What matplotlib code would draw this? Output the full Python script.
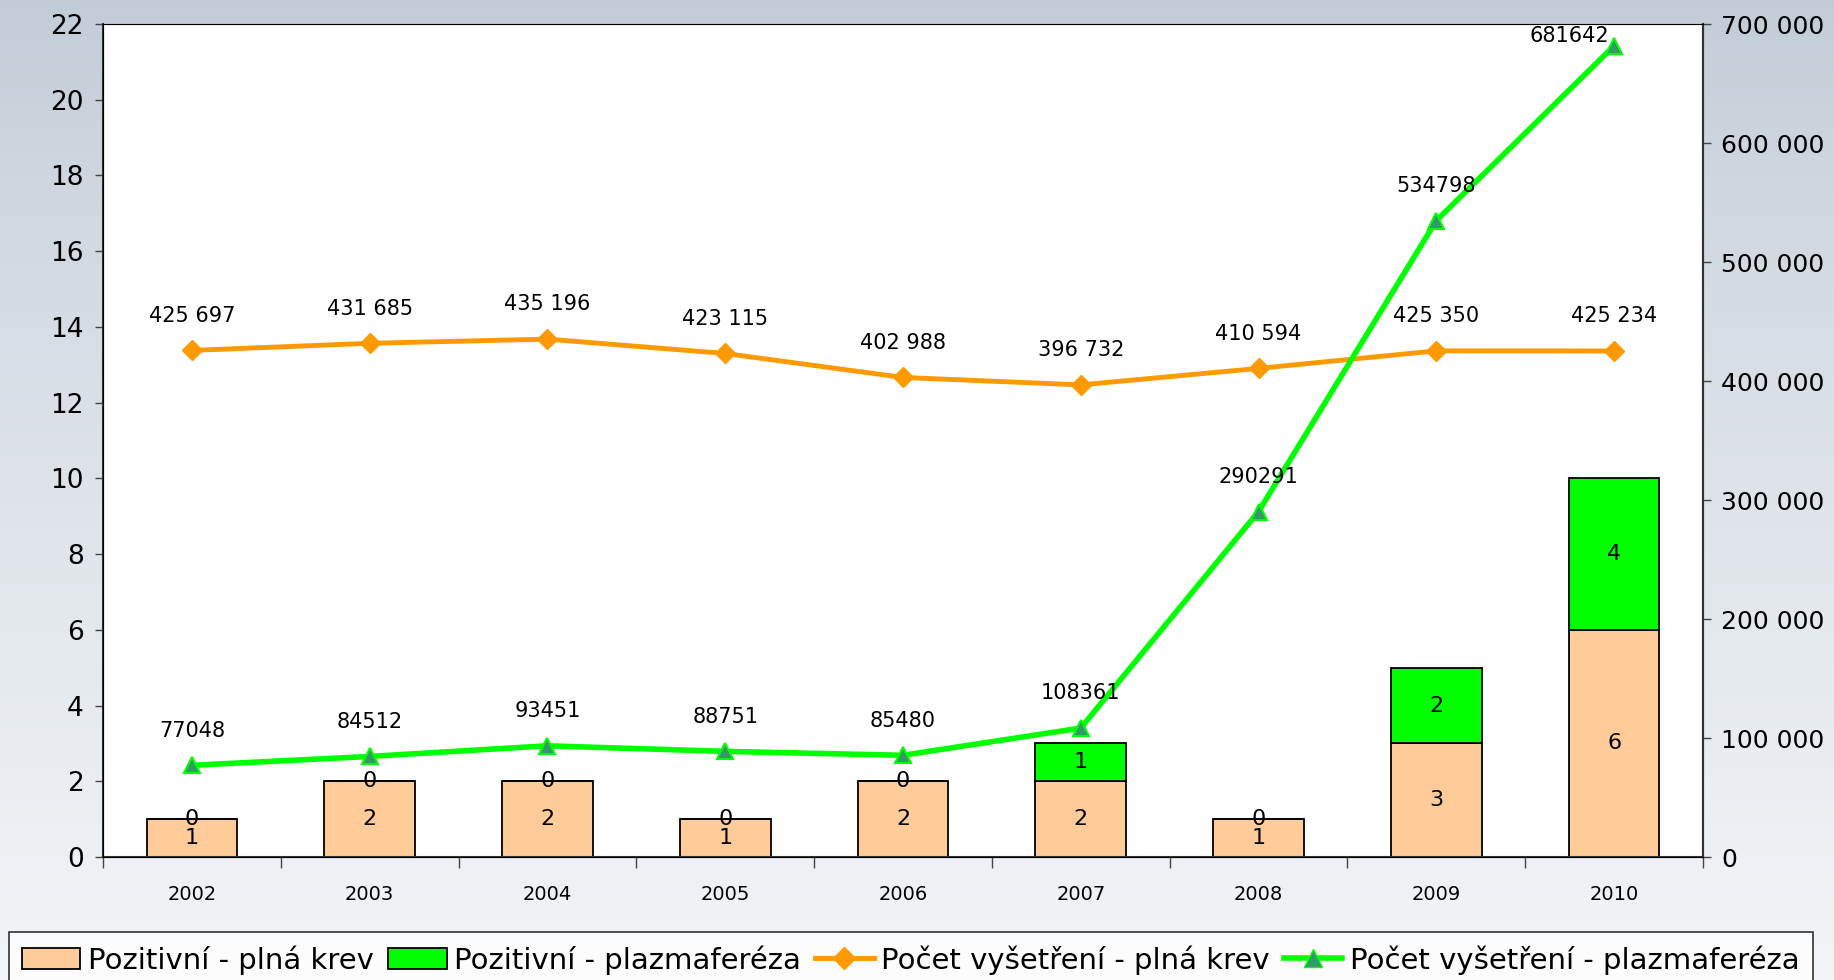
import numpy as np
import matplotlib
matplotlib.use("Agg")
import matplotlib.pyplot as plt
from matplotlib.patches import Patch
from matplotlib.lines import Line2D
from matplotlib.ticker import FuncFormatter, FixedLocator

plt.rcParams['font.family'] = ['DejaVu Sans']

years = ['2002', '2003', '2004', '2005', '2006', '2007', '2008', '2009', '2010']
pos_krev = [1, 2, 2, 1, 2, 2, 1, 3, 6]
pos_plazma = [0, 0, 0, 0, 0, 1, 0, 2, 4]
vys_krev = [425697, 431685, 435196, 423115, 402988, 396732, 410594, 425350, 425234]
vys_plazma = [77048, 84512, 93451, 88751, 85480, 108361, 290291, 534798, 681642]

c_peach = '#FFCC99'
c_green = '#00FF00'
c_orange = '#FF9900'
c_tri = '#339966'

fig = plt.figure(figsize=(18.34, 9.8), dpi=100)

# background gradient
bg = fig.add_axes([0, 0, 1, 1], zorder=-10)
grad = np.linspace(0, 1, 256).reshape(-1, 1)
top = np.array([0.76, 0.80, 0.84])
bot = np.array([0.95, 0.96, 0.97])
img = top + (bot - top) * grad[:, :, None] ** 0.8
bg.imshow(img, aspect='auto', extent=[0, 1, 0, 1])
bg.axis('off')

ax = fig.add_axes([103 / 1834, 1 - 857 / 980, 1600 / 1834, 833 / 980])
ax.set_facecolor('white')
x = np.arange(len(years))

b1 = ax.bar(x, pos_krev, width=0.51, color=c_peach, edgecolor='black', linewidth=1.3, zorder=2)
b2 = ax.bar(x, pos_plazma, width=0.51, bottom=pos_krev, color=c_green, edgecolor='black', linewidth=1.3, zorder=2)
ax.bar_label(b1, label_type='center', fontsize=16)
ax.bar_label(b2, label_type='center', fontsize=16)

ax.set_xlim(-0.5, len(years) - 0.5)
ax.set_ylim(0, 22)
ax.set_yticks(range(0, 23, 2))
ax.tick_params(axis='y', labelsize=19, length=6, width=1, color='#444444', pad=8)
ax.xaxis.set_major_locator(FixedLocator(np.arange(-0.5, len(years), 1)))
ax.set_xticklabels([])
ax.xaxis.set_minor_locator(FixedLocator(x))
ax.set_xticklabels(years, minor=True)
ax.tick_params(axis='x', which='major', length=8, width=1, color='#444444')
ax.tick_params(axis='x', which='minor', length=0, labelsize=14, pad=20)
for s in ['left', 'right', 'bottom']:
    ax.spines[s].set_color('#333333')
    ax.spines[s].set_linewidth(1.5)
ax.spines['top'].set_color('#999999')

ax2 = ax.twinx()
ax2.set_ylim(0, 700000)
ax2.set_yticks(range(0, 700001, 100000))
ax2.yaxis.set_major_formatter(FuncFormatter(lambda v, p: f"{int(v):,}".replace(',', ' ')))
ax2.tick_params(axis='y', labelsize=18, length=6, width=1, color='#444444', pad=7)
ax2.spines['right'].set_color('#333333')
ax2.spines['right'].set_linewidth(1.5)

ax2.plot(x, vys_krev, color=c_orange, lw=3.5, marker='D', ms=10, mfc=c_orange, mec=c_orange, zorder=3)
ax2.plot(x, vys_plazma, color=c_green, lw=4, marker='^', ms=12, mfc=c_tri, mec=c_green, mew=1.5, zorder=3)

for i, v in enumerate(vys_krev):
    ax2.annotate(f"{v:,}".replace(',', ' '), (x[i], v), xytext=(0, 25), textcoords='offset points',
                 ha='center', va='center', fontsize=15)
for i, v in enumerate(vys_plazma):
    off = (0, 25)
    if i == len(vys_plazma) - 1:
        off = (-32, 7)
    ax2.annotate(str(v), (x[i], v), xytext=off, textcoords='offset points',
                 ha='center', va='center', fontsize=15, annotation_clip=False)

handles = [
    Patch(facecolor=c_peach, edgecolor='black', linewidth=1.3),
    Patch(facecolor=c_green, edgecolor='black', linewidth=1.3),
    Line2D([], [], color=c_orange, lw=3.5, marker='D', ms=11, mfc=c_orange, mec=c_orange),
    Line2D([], [], color=c_green, lw=4, marker='^', ms=13, mfc=c_tri, mec=c_green),
]
labels = ['Pozitivní - plná krev', 'Pozitivní - plazmaferéza',
          'Počet vyšetření - plná krev', 'Počet vyšetření - plazmaferéza']
leg = fig.legend(handles, labels, loc='upper left', bbox_to_anchor=(9 / 1834, 1 - 932 / 980),
                 ncol=4, fontsize=21, frameon=True, fancybox=False, edgecolor='black',
                 handlelength=2.0, handletextpad=0.25, columnspacing=0.5, borderpad=0.45,
                 borderaxespad=0)
leg.get_frame().set_linewidth(1.2)
leg.get_frame().set_facecolor('white')

fig.savefig('out.png', dpi=100)
